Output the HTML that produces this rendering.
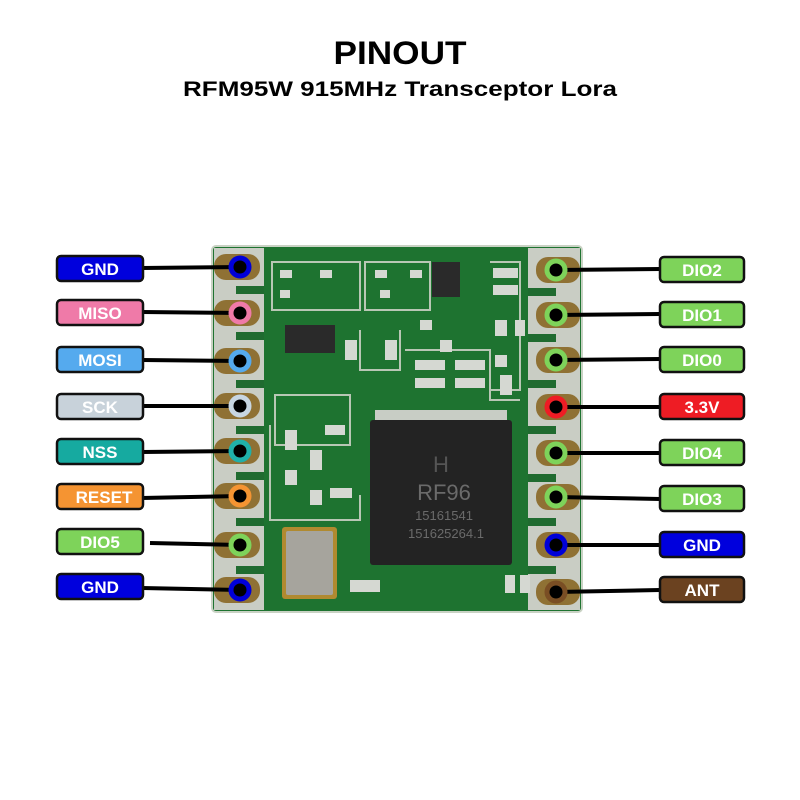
<!DOCTYPE html>
<html><head><meta charset="utf-8"><style>
html,body{margin:0;padding:0;background:#fff;}
svg{display:block;font-family:"Liberation Sans",Arial,sans-serif;font-weight:bold;}
</style></head><body>
<svg width="800" height="800" viewBox="0 0 800 800" xmlns="http://www.w3.org/2000/svg">
<rect width="800" height="800" fill="#fff"/>
<text x="400" y="64" text-anchor="middle" font-size="32" textLength="133" lengthAdjust="spacingAndGlyphs">PINOUT</text>
<text x="400" y="96" text-anchor="middle" font-size="21" textLength="434" lengthAdjust="spacingAndGlyphs">RFM95W 915MHz Transceptor Lora</text>

<!-- board -->
<rect x="212" y="246" width="370" height="366" rx="4" fill="#1e7330"/>
<rect x="212" y="246" width="370" height="366" rx="4" fill="none" stroke="#c9d2c4" stroke-width="2"/>
<rect x="214" y="248" width="50" height="362" fill="#c9cdc4"/>
<rect x="528" y="248" width="52" height="362" fill="#c9cdc4"/>
<g fill="#206b30">
<rect x="236" y="286" width="28" height="8"/><rect x="236" y="332" width="28" height="8"/><rect x="236" y="380" width="28" height="8"/><rect x="236" y="426" width="28" height="8"/><rect x="236" y="472" width="28" height="8"/><rect x="236" y="518" width="28" height="8"/><rect x="236" y="566" width="28" height="8"/>
<rect x="528" y="288" width="28" height="8"/><rect x="528" y="334" width="28" height="8"/><rect x="528" y="380" width="28" height="8"/><rect x="528" y="426" width="28" height="8"/><rect x="528" y="474" width="28" height="8"/><rect x="528" y="518" width="28" height="8"/><rect x="528" y="566" width="28" height="8"/>
</g>
<!-- copper castellation pads -->
<g fill="#8f7134">
<rect x="214" y="254" width="46" height="26" rx="12"/><rect x="214" y="300" width="46" height="26" rx="12"/><rect x="214" y="348" width="46" height="26" rx="12"/><rect x="214" y="393" width="46" height="26" rx="12"/><rect x="214" y="438" width="46" height="26" rx="12"/><rect x="214" y="483" width="46" height="26" rx="12"/><rect x="214" y="532" width="46" height="26" rx="12"/><rect x="214" y="577" width="46" height="26" rx="12"/>
<rect x="536" y="257" width="44" height="26" rx="12"/><rect x="536" y="302" width="44" height="26" rx="12"/><rect x="536" y="347" width="44" height="26" rx="12"/><rect x="536" y="394" width="44" height="26" rx="12"/><rect x="536" y="440" width="44" height="26" rx="12"/><rect x="536" y="484" width="44" height="26" rx="12"/><rect x="536" y="532" width="44" height="26" rx="12"/><rect x="536" y="579" width="44" height="26" rx="12"/>
</g>
<g fill="none" stroke="#b9c7b5" stroke-width="2">
<path d="M272 262 H360 V310 H272 Z"/><path d="M365 262 H430 V310 H365 Z"/>
<path d="M275 395 H350 V445 H275 Z"/><path d="M270 425 V520 H360 V495"/>
<path d="M490 262 H520 V390 H490"/><path d="M360 330 V370 H400 V330"/>
<path d="M405 350 H490 V400 H520"/>
</g>
<g fill="#d5d8d2">
<rect x="280" y="270" width="12" height="8"/><rect x="320" y="270" width="12" height="8"/><rect x="375" y="270" width="12" height="8"/><rect x="410" y="270" width="12" height="8"/>
<rect x="280" y="290" width="10" height="8"/><rect x="380" y="290" width="10" height="8"/>
<rect x="493" y="268" width="25" height="10"/><rect x="493" y="285" width="25" height="10"/>
<rect x="345" y="340" width="12" height="20"/><rect x="385" y="340" width="12" height="20"/>
<rect x="420" y="320" width="12" height="10"/><rect x="440" y="340" width="12" height="12"/>
<rect x="415" y="360" width="30" height="10"/><rect x="455" y="360" width="30" height="10"/>
<rect x="415" y="378" width="30" height="10"/><rect x="455" y="378" width="30" height="10"/>
<rect x="495" y="320" width="12" height="16"/><rect x="515" y="320" width="10" height="16"/>
<rect x="495" y="355" width="12" height="12"/><rect x="500" y="375" width="12" height="20"/>
<rect x="285" y="430" width="12" height="20"/><rect x="310" y="450" width="12" height="20"/>
<rect x="325" y="425" width="20" height="10"/><rect x="285" y="470" width="12" height="15"/>
<rect x="310" y="490" width="12" height="15"/><rect x="330" y="488" width="22" height="10"/>
<rect x="350" y="580" width="30" height="12"/><rect x="505" y="575" width="10" height="18"/><rect x="520" y="575" width="10" height="18"/>
</g>
<rect x="285" y="325" width="50" height="28" fill="#2a2a2a"/>
<rect x="432" y="262" width="28" height="35" fill="#2a2a2a"/>
<rect x="282" y="527" width="55" height="72" rx="3" fill="#b08a30"/>
<rect x="286" y="531" width="47" height="64" rx="2" fill="#a6a49d"/>
<rect x="375" y="410" width="132" height="150" fill="#c8cdc5"/>
<rect x="370" y="420" width="142" height="145" rx="3" fill="#232323"/>
<text x="441" y="472" text-anchor="middle" font-size="22" fill="#555" font-weight="normal">H</text>
<text x="444" y="500" text-anchor="middle" font-size="22" fill="#6a6a6a" font-weight="normal">RF96</text>
<text x="444" y="520" text-anchor="middle" font-size="13" fill="#6a6a6a" font-weight="normal">15161541</text>
<text x="446" y="538" text-anchor="middle" font-size="13" fill="#6a6a6a" font-weight="normal">151625264.1</text>

<g stroke="#000" stroke-width="4">
<line x1="142" y1="268" x2="240" y2="267"/><line x1="142" y1="312" x2="240" y2="313"/><line x1="142" y1="360" x2="240" y2="361"/><line x1="142" y1="406" x2="240" y2="406"/><line x1="142" y1="452" x2="240" y2="451"/><line x1="142" y1="498" x2="240" y2="496"/><line x1="150" y1="543" x2="240" y2="545"/><line x1="142" y1="588" x2="240" y2="590"/>
<line x1="556" y1="270" x2="660" y2="269"/><line x1="556" y1="315" x2="660" y2="314"/><line x1="556" y1="360" x2="660" y2="359"/><line x1="556" y1="407" x2="660" y2="407"/><line x1="556" y1="453" x2="660" y2="453"/><line x1="556" y1="497" x2="660" y2="499"/><line x1="556" y1="545" x2="660" y2="545"/><line x1="556" y1="592" x2="660" y2="590"/>
</g>
<g stroke-width="5">
<circle cx="240" cy="267" r="9" fill="#000" stroke="#0000d8"/>
<circle cx="240" cy="313" r="9" fill="#000" stroke="#ef7aa8"/>
<circle cx="240" cy="361" r="9" fill="#000" stroke="#55aaee"/>
<circle cx="240" cy="406" r="9" fill="#000" stroke="#c8d6e2"/>
<circle cx="240" cy="451" r="9" fill="#000" stroke="#20b0aa"/>
<circle cx="240" cy="496" r="9" fill="#000" stroke="#f59432"/>
<circle cx="240" cy="545" r="9" fill="#000" stroke="#7ed35a"/>
<circle cx="240" cy="590" r="9" fill="#000" stroke="#0000d8"/>
<circle cx="556" cy="270" r="9" fill="#000" stroke="#7ed35a"/>
<circle cx="556" cy="315" r="9" fill="#000" stroke="#7ed35a"/>
<circle cx="556" cy="360" r="9" fill="#000" stroke="#7ed35a"/>
<circle cx="556" cy="407" r="9" fill="#000" stroke="#ee1c24"/>
<circle cx="556" cy="453" r="9" fill="#000" stroke="#7ed35a"/>
<circle cx="556" cy="497" r="9" fill="#000" stroke="#7ed35a"/>
<circle cx="556" cy="545" r="9" fill="#000" stroke="#0000d8"/>
<circle cx="556" cy="592" r="9" fill="#000" stroke="#7a4e24"/>
</g>
<g stroke="#111" stroke-width="2.5">
<rect x="57" y="256" width="86" height="25" rx="4" fill="#0000dd"/>
<rect x="57" y="300" width="86" height="25" rx="4" fill="#ef7aa8"/>
<rect x="57" y="347" width="86" height="25" rx="4" fill="#55aaee"/>
<rect x="57" y="394" width="86" height="25" rx="4" fill="#c8d2da"/>
<rect x="57" y="439" width="86" height="25" rx="4" fill="#16aaa0"/>
<rect x="57" y="484" width="86" height="25" rx="4" fill="#f59432"/>
<rect x="57" y="529" width="86" height="25" rx="4" fill="#7ed35a"/>
<rect x="57" y="574" width="86" height="25" rx="4" fill="#0000dd"/>
<rect x="660" y="257" width="84" height="25" rx="4" fill="#7ed35a"/>
<rect x="660" y="302" width="84" height="25" rx="4" fill="#7ed35a"/>
<rect x="660" y="347" width="84" height="25" rx="4" fill="#7ed35a"/>
<rect x="660" y="394" width="84" height="25" rx="4" fill="#ee1c24"/>
<rect x="660" y="440" width="84" height="25" rx="4" fill="#7ed35a"/>
<rect x="660" y="486" width="84" height="25" rx="4" fill="#7ed35a"/>
<rect x="660" y="532" width="84" height="25" rx="4" fill="#0000dd"/>
<rect x="660" y="577" width="84" height="25" rx="4" fill="#6b4220"/>
</g>
<g fill="#fff" font-size="17" text-anchor="middle">
<text x="100" y="275">GND</text>
<text x="100" y="319">MISO</text>
<text x="100" y="366">MOSI</text>
<text x="100" y="413">SCK</text>
<text x="100" y="458">NSS</text>
<text x="104" y="503">RESET</text>
<text x="100" y="548">DIO5</text>
<text x="100" y="593">GND</text>
<text x="702" y="276">DIO2</text>
<text x="702" y="321">DIO1</text>
<text x="702" y="366">DIO0</text>
<text x="702" y="413">3.3V</text>
<text x="702" y="459">DIO4</text>
<text x="702" y="505">DIO3</text>
<text x="702" y="551">GND</text>
<text x="702" y="596">ANT</text>
</g>
</svg>
</body></html>
